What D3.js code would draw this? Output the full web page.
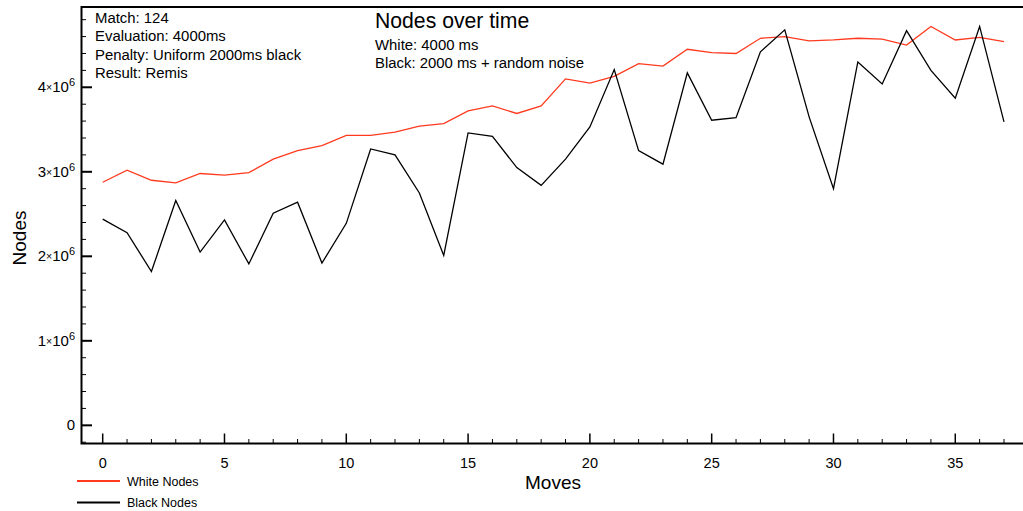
<!DOCTYPE html>
<html>
<head>
<meta charset="utf-8">
<script src="https://cdn.jsdelivr.net/npm/d3@7"></script>
<style>
  html, body { margin: 0; padding: 0; background: #fff; }
  svg { display: block; font-family: "Liberation Sans", Arial, Helvetica, sans-serif; }
</style>
</head>
<body>
<svg id="chart" width="1023" height="511"></svg>
<script>
// Move numbers and node counts searched per move
const moves = d3.range(0, 38);
const whiteNodes = [
  2.876e6, 3.02e6, 2.90e6, 2.87e6, 2.98e6, 2.96e6, 2.99e6, 3.15e6, 3.25e6, 3.31e6,
  3.43e6, 3.43e6, 3.47e6, 3.54e6, 3.57e6, 3.72e6, 3.78e6, 3.69e6, 3.78e6, 4.10e6,
  4.05e6, 4.13e6, 4.28e6, 4.25e6, 4.45e6, 4.41e6, 4.40e6, 4.58e6, 4.60e6, 4.55e6,
  4.56e6, 4.58e6, 4.57e6, 4.50e6, 4.72e6, 4.56e6, 4.59e6, 4.54e6
];
const blackNodes = [
  2.44e6, 2.28e6, 1.82e6, 2.66e6, 2.05e6, 2.43e6, 1.91e6, 2.51e6, 2.64e6, 1.92e6,
  2.39e6, 3.27e6, 3.20e6, 2.75e6, 2.01e6, 3.46e6, 3.42e6, 3.05e6, 2.84e6, 3.15e6,
  3.53e6, 4.21e6, 3.25e6, 3.09e6, 4.17e6, 3.61e6, 3.64e6, 4.42e6, 4.68e6, 3.65e6,
  2.80e6, 4.30e6, 4.04e6, 4.67e6, 4.20e6, 3.87e6, 4.72e6, 3.59e6
];
const xMajorTicks = [0, 5, 10, 15, 20, 25, 30, 35];
const yMajorTicks = [0, 1e6, 2e6, 3e6, 4e6];
const infoLines = ["Match: 124", "Evaluation: 4000ms", "Penalty: Uniform 2000ms black", "Result: Remis"];
const titleText = "Nodes over time";
const subtitleLines = ["White: 4000 ms", "Black: 2000 ms + random noise"];
const seriesNames = ["White Nodes", "Black Nodes"];
const seriesColors = ["#ff3a1e", "#000000"];

const svg = d3.select("#chart");
const plot = { left: 81.5, right: 1023, top: 7, bottom: 443.5 };

const x = d3.scaleLinear().domain([-0.87, 37.78]).range([plot.left, plot.right]);
const y = d3.scaleLinear().domain([-215000, 4950000]).range([plot.bottom, plot.top]);

// Minor and major ticks, drawn inward from the axes
const xMinor = d3.range(0, 38).filter(v => v % 5 !== 0);
const yMinor = d3.range(-2e5, 4.95e6, 2e5).map(v => Math.round(v)).filter(v => v % 1e6 !== 0 && y(v) < plot.bottom - 1);

const ticks = svg.append("g").attr("stroke", "#000");
ticks.selectAll(".xminor").data(xMinor).join("line")
  .attr("x1", d => x(d)).attr("x2", d => x(d))
  .attr("y1", plot.bottom).attr("y2", plot.bottom - 4.5).attr("stroke-width", 1);
ticks.selectAll(".xmajor").data(xMajorTicks).join("line")
  .attr("x1", d => x(d)).attr("x2", d => x(d))
  .attr("y1", plot.bottom).attr("y2", plot.bottom - 10).attr("stroke-width", 1.5);
ticks.selectAll(".yminor").data(yMinor).join("line")
  .attr("x1", plot.left).attr("x2", plot.left + 4.5)
  .attr("y1", d => y(d)).attr("y2", d => y(d)).attr("stroke-width", 1);
ticks.selectAll(".ymajor").data(yMajorTicks).join("line")
  .attr("x1", plot.left).attr("x2", plot.left + 10.5)
  .attr("y1", d => y(d)).attr("y2", d => y(d)).attr("stroke-width", 2);

// Frame: left and bottom axes, top edge
const frame = svg.append("g").attr("stroke", "#000").attr("stroke-width", 2).attr("fill", "none");
frame.append("path").attr("d", `M${plot.right},${plot.top}H${plot.left}V${plot.bottom}H${plot.right}`);

// Tick labels
svg.append("g").selectAll("text").data(xMajorTicks).join("text")
  .attr("x", d => x(d)).attr("y", 468)
  .attr("text-anchor", "middle").attr("font-size", 14.5).attr("fill", "#000")
  .text(d => d);

const yLab = svg.append("g").selectAll("text").data(yMajorTicks).join("text")
  .attr("x", 75).attr("y", d => y(d) + 5)
  .attr("text-anchor", "end").attr("font-size", 15).attr("fill", "#000");
yLab.each(function(d) {
  const t = d3.select(this);
  if (d === 0) { t.append("tspan").text("0"); return; }
  t.append("tspan").text(String(d / 1e6));
  t.append("tspan").attr("font-size", 10.5).attr("dy", -1).text("\u00d7");
  t.append("tspan").attr("dy", 1).text("10");
  t.append("tspan").attr("font-size", 11).attr("dy", -6).text("6");
});

// Axis titles
svg.append("text").attr("x", 553).attr("y", 489)
  .attr("text-anchor", "middle").attr("font-size", 19).text("Moves");
svg.append("text").attr("transform", "translate(26,238) rotate(-90)")
  .attr("text-anchor", "middle").attr("font-size", 19).text("Nodes");

// Series lines
const line = d3.line().x((d, i) => x(moves[i])).y(d => y(d));
[whiteNodes, blackNodes].forEach((vals, k) => {
  svg.append("path").datum(vals)
    .attr("d", line).attr("fill", "none")
    .attr("stroke", seriesColors[k]).attr("stroke-width", 1.3)
    .attr("stroke-linejoin", "miter");
});

// Match information block
svg.append("g").selectAll("text").data(infoLines).join("text")
  .attr("x", 95).attr("y", (d, i) => 23 + i * 18.3)
  .attr("font-size", 14.9).attr("fill", "#000").text(d => d);

// Title and settings
svg.append("text").attr("x", 375).attr("y", 28).attr("font-size", 21.2).text(titleText);
svg.append("g").selectAll("text").data(subtitleLines).join("text")
  .attr("x", 375).attr("y", (d, i) => 50 + i * 18.3)
  .attr("font-size", 14.9).text(d => d);

// Legend
const legend = svg.append("g");
seriesNames.forEach((name, k) => {
  const ly = 481 + k * 21.5;
  legend.append("line").attr("x1", 77).attr("x2", 120).attr("y1", ly).attr("y2", ly)
    .attr("stroke", seriesColors[k]).attr("stroke-width", 2);
  legend.append("text").attr("x", 127).attr("y", ly + 4.5)
    .attr("font-size", 12.5).text(name);
});
</script>
</body>
</html>
